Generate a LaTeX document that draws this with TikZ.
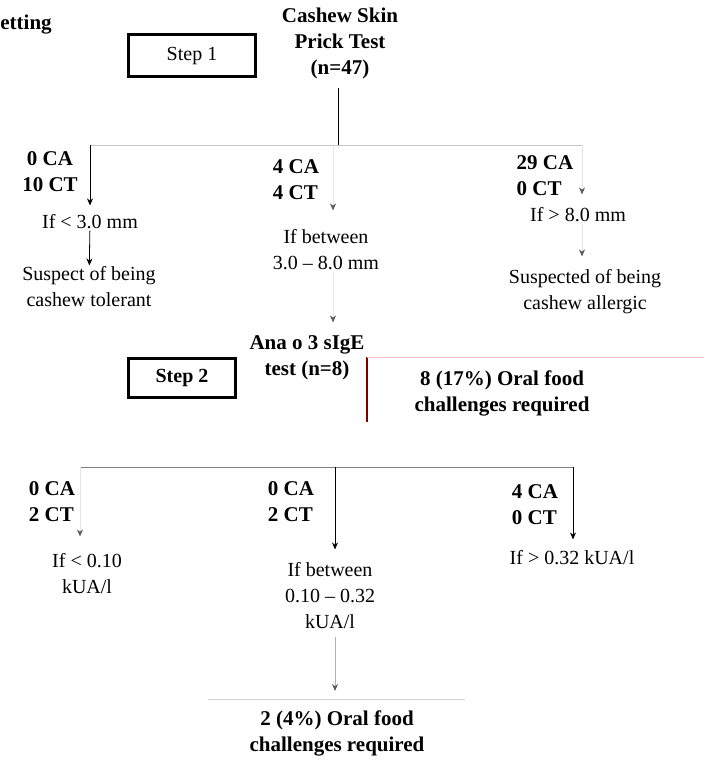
\documentclass[tikz,border=0pt]{standalone}
\usepackage{fontspec}
\setmainfont{Liberation Serif}
\usetikzlibrary{arrows.meta}
\colorlet{boxred}{red!50!black}
\colorlet{boxpink}{red!25}

\begin{document}
\begin{tikzpicture}[x=1pt,y=-1pt,line width=0.8pt,
    txt/.style={align=center,inner sep=1pt,font=\fontsize{20}{26}\selectfont},
    btxt/.style={txt,font=\fontsize{21}{26}\selectfont\bfseries},
    stepbox/.style={draw,line width=3pt,inner sep=0pt},
    arr/.style={-{Stealth[length=7pt,width=6pt]}},
    faint/.style={draw=gray!20,-{Stealth[length=7pt,width=6pt,gray!70!black]}}]
      \useasboundingbox (0,0) rectangle (704,762);

      \node[btxt,anchor=west] (title) at (-1,25) {etting};
      \node[stepbox,minimum width=127pt,minimum height=42pt,font=\fontsize{20}{24}\selectfont] (step1) at (192,56) {Step 1};
      \node[btxt] (skin) at (340,43) {Cashew Skin\\Prick Test\\(n=47)};

      \coordinate (split1) at (338,145);
      \coordinate (left1) at (90,145);
      \coordinate (mid1) at (333,145);
      \coordinate (right1) at (582,145);
      \draw[shorten <=8pt] (skin.south -| split1) -- (split1);
      \draw[gray!45] (left1) -- (right1);

      \node[btxt] (nA) at (50,172) {0 CA\\10 CT};
      \node[txt] (ifA) at (90,222) {If < 3.0 mm};
      \node[txt] (susA) at (89,287) {Suspect of being\\cashew tolerant};
      \draw[arr,shorten >=8pt] (left1) -- (ifA);
      \draw[arr] (ifA) -- (susA);

      \node[btxt,align=left] (nB) at (296,180) {4 CA\\4 CT};
      \node[txt] (ifB) at (326,250) {If between\\3.0 -- 8.0 mm};
      \node[btxt] (ana) at (307,358) {Ana o 3 sIgE\\test (n=8)};
      \draw[faint,shorten >=18pt] (mid1) -- (mid1 |- ifB.north);
      \draw[faint,shorten >=12pt] (ifB.south -| mid1) -- (ana.north -| mid1);

      \node[btxt,align=left] (nC) at (545,176) {29 CA\\0 CT};
      \node[txt] (ifC) at (578,215) {If > 8.0 mm};
      \node[txt] (susC) at (585,292) {Suspected of being\\cashew allergic};
      \draw[faint,shorten >=12pt] (right1) -- (right1 |- ifC.north);
      \draw[faint,shorten >=12pt] (ifC.south -| right1) -- (susC.north -| right1);

      \node[stepbox,minimum width=107pt,minimum height=39pt,font=\fontsize{20}{24}\selectfont\bfseries] (step2) at (182,378) {Step 2};
      \node[btxt] (ofc1) at (502,393) {8 (17\%) Oral food\\challenges required};
      \coordinate (boxA) at (367,422);
      \coordinate (boxB) at (367,357);
      \coordinate (boxC) at (704,357);
      \draw[boxred,line width=1.2pt] (boxA) -- (boxB);
      \draw[boxpink] (boxB) -- (boxC);

      \coordinate (left2) at (80,467);
      \coordinate (mid2) at (335,467);
      \coordinate (right2) at (573,467);
      \draw[gray] (left2) -- (right2);

      \node[btxt,align=left] (nD) at (52,502) {0 CA\\2 CT};
      \node[txt] (ifD) at (87,574) {If < 0.10\\kUA/l};
      \draw[faint,shorten >=16pt] (left2) -- (left2 |- ifD.north);

      \node[btxt,align=left] (nE) at (291,502) {0 CA\\2 CT};
      \node[txt] (ifE) at (330,596) {If between\\0.10 -- 0.32\\kUA/l};
      \draw[arr,shorten >=12pt] (mid2) -- (mid2 |- ifE.north);

      \node[btxt,align=left] (nF) at (535,505) {4 CA\\0 CT};
      \node[txt] (ifF) at (572,558) {If > 0.32 kUA/l};
      \draw[arr,shorten >=10pt] (right2) -- (right2 |- ifF.north);

      \node[btxt] (ofc2) at (337,733) {2 (4\%) Oral food\\challenges required};
      \coordinate (ofcL) at (208,699);
      \coordinate (ofcR) at (465,699);
      \draw[gray!35] (ofcL) -- (ofcR);
      \draw[draw=gray!60,-{Stealth[length=7pt,width=6pt,gray!70!black]},shorten <=6pt,shorten >=8pt] (ifE.south -| mid2) -- (ofcL -| mid2);
\end{tikzpicture}
\end{document}
